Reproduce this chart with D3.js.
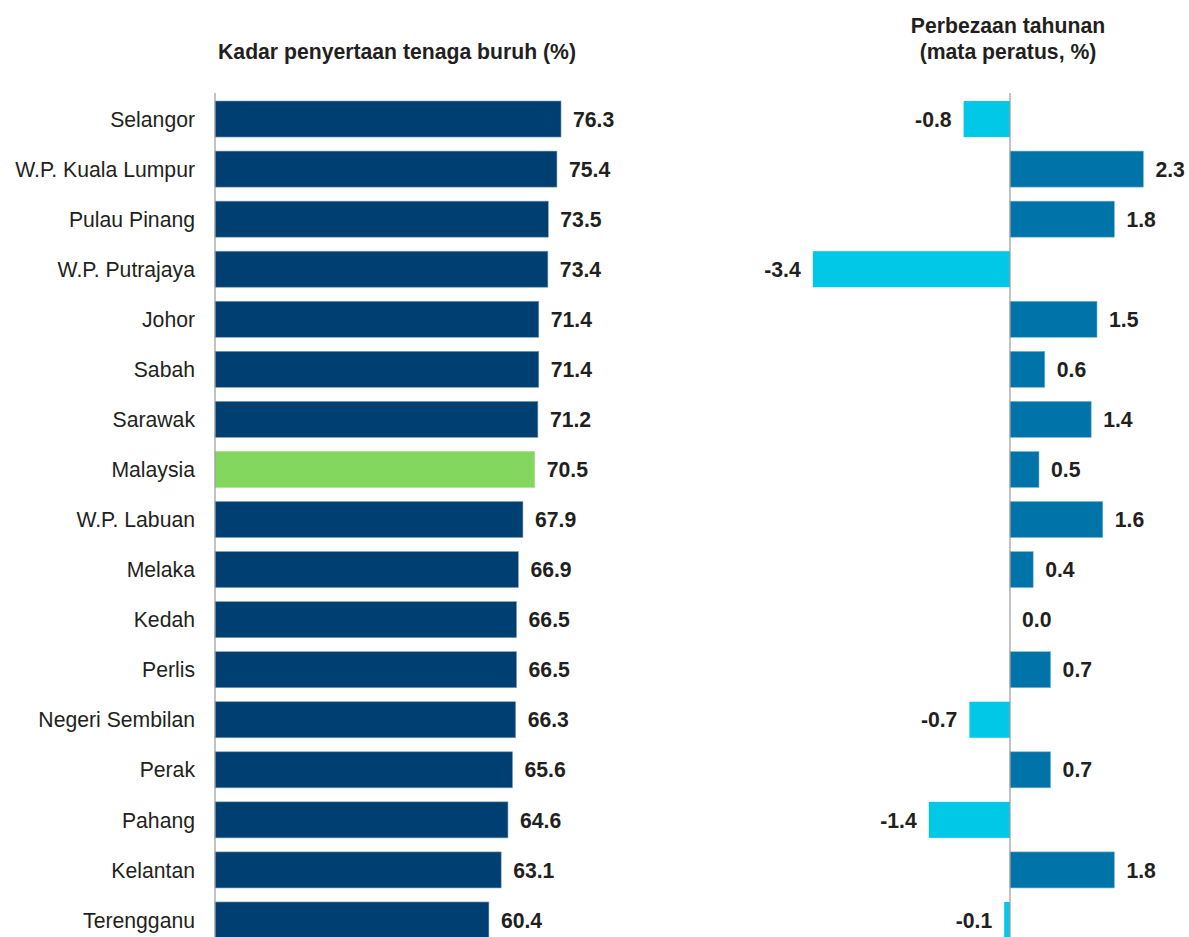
<!DOCTYPE html>
<html><head><meta charset="utf-8">
<script src="https://cdn.jsdelivr.net/npm/d3@7"></script>
<style>body{margin:0;background:#fff;}svg{display:block;font-family:"Liberation Sans",Arial,sans-serif;}</style>
</head><body>
<svg id="c" width="1189" height="937"></svg>
<script>
const states = ["Selangor","W.P. Kuala Lumpur","Pulau Pinang","W.P. Putrajaya","Johor","Sabah","Sarawak","Malaysia","W.P. Labuan","Melaka","Kedah","Perlis","Negeri Sembilan","Perak","Pahang","Kelantan","Terengganu"];
const rate = [76.3,75.4,73.5,73.4,71.4,71.4,71.2,70.5,67.9,66.9,66.5,66.5,66.3,65.6,64.6,63.1,60.4];
const change = [-0.8,2.3,1.8,-3.4,1.5,0.6,1.4,0.5,1.6,0.4,0.0,0.7,-0.7,0.7,-1.4,1.8,-0.1];
const titleLeft = "Kadar penyertaan tenaga buruh (%)";
const titleRight = ["Perbezaan tahunan","(mata peratus, %)"];

const FS = 21.2;
const svg = d3.select("#c");
const y = d3.scaleBand().domain(states).range([94, 94 + 17*50.06]).paddingInner(0.28).paddingOuter(0.14);
const xL = d3.scaleLinear().domain([0,100]).range([215, 215+453.5]);
const xR = d3.scaleLinear().domain([-1,1]).range([1010-58, 1010+58]);

// titles
svg.append("text").attr("x",397).attr("y",59).attr("text-anchor","middle")
  .attr("font-size",FS).attr("font-weight","bold").attr("fill","#231f20").text(titleLeft);
svg.append("text").attr("x",1008).attr("y",33).attr("text-anchor","middle")
  .attr("font-size",FS).attr("font-weight","bold").attr("fill","#231f20").text(titleRight[0]);
svg.append("text").attr("x",1008).attr("y",59).attr("text-anchor","middle")
  .attr("font-size",FS).attr("font-weight","bold").attr("fill","#231f20").text(titleRight[1]);

const data = states.map((s,i)=>({s, r:rate[i], c:change[i]}));

// left bars
svg.append("g").selectAll("rect").data(data).join("rect")
  .attr("x",xL(0)).attr("y",d=>y(d.s)).attr("width",d=>xL(d.r)-xL(0)).attr("height",y.bandwidth())
  .attr("fill",d=>d.s==="Malaysia"?"#84d75e":"#003f72")
  .attr("stroke",d=>d.s==="Malaysia"?"#a8e08a":"#7f9fbd").attr("stroke-width",0.6);
svg.append("g").selectAll("text").data(data).join("text")
  .attr("x",d=>xL(d.r)+12).attr("y",d=>y(d.s)+y.bandwidth()/2).attr("dy","0.36em")
  .attr("font-size",FS).attr("font-weight","bold").attr("fill","#231f20")
  .text(d=>d3.format(".1f")(d.r));
// category labels
svg.append("g").selectAll("text").data(data).join("text")
  .attr("x",195).attr("y",d=>y(d.s)+y.bandwidth()/2).attr("dy","0.36em").attr("text-anchor","end")
  .attr("font-size",FS).attr("fill","#231f20").text(d=>d.s);
// left axis line
svg.append("line").attr("x1",xL(0)).attr("x2",xL(0)).attr("y1",93).attr("y2",937)
  .attr("stroke","#9a9a9a").attr("stroke-width",1.2);

// right bars
svg.append("g").selectAll("rect").data(data).join("rect")
  .attr("x",d=>Math.min(xR(0),xR(d.c))).attr("y",d=>y(d.s))
  .attr("width",d=>Math.abs(xR(d.c)-xR(0))).attr("height",y.bandwidth())
  .attr("fill",d=>d.c<0?"#00c8e6":"#0073a8")
  .attr("stroke",d=>d.c<0?"none":"#7fb9d4").attr("stroke-width",0.6);
svg.append("g").selectAll("text").data(data).join("text")
  .attr("x",d=>d.c<0? xR(d.c)-12 : xR(d.c)+12)
  .attr("text-anchor",d=>d.c<0?"end":"start")
  .attr("y",d=>y(d.s)+y.bandwidth()/2).attr("dy","0.36em")
  .attr("font-size",FS).attr("font-weight","bold").attr("fill","#231f20")
  .text(d=>d3.format(".1f")(d.c).replace("−","-"));
svg.append("line").attr("x1",xR(0)).attr("x2",xR(0)).attr("y1",93).attr("y2",937)
  .attr("stroke","#9a9a9a").attr("stroke-width",1.2);
</script>
</body></html>
